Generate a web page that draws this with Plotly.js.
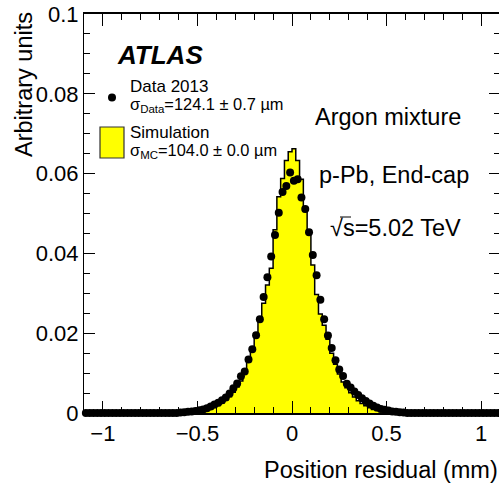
<!DOCTYPE html>
<html>
<head>
<meta charset="utf-8">
<script src="https://cdn.plot.ly/plotly-3.0.1.min.js"></script>
<style>
  html, body { margin: 0; padding: 0; background: #fff; overflow: hidden; }
</style>
</head>
<body>
<div id="plot"></div>
<script>
// bin centres, 0.02 mm wide
const binCenters = [
  -1.09, -1.07, -1.05, -1.03, -1.01, -0.99, -0.97, -0.95, -0.93, -0.91,
  -0.89, -0.87, -0.85, -0.83, -0.81, -0.79, -0.77, -0.75, -0.73, -0.71,
  -0.69, -0.67, -0.65, -0.63, -0.61, -0.59, -0.57, -0.55, -0.53, -0.51,
  -0.49, -0.47, -0.45, -0.43, -0.41, -0.39, -0.37, -0.35, -0.33, -0.31,
  -0.29, -0.27, -0.25, -0.23, -0.21, -0.19, -0.17, -0.15, -0.13, -0.11,
  -0.09, -0.07, -0.05, -0.03, -0.01, 0.01, 0.03, 0.05, 0.07, 0.09,
  0.11, 0.13, 0.15, 0.17, 0.19, 0.21, 0.23, 0.25, 0.27, 0.29,
  0.31, 0.33, 0.35, 0.37, 0.39, 0.41, 0.43, 0.45, 0.47, 0.49,
  0.51, 0.53, 0.55, 0.57, 0.59, 0.61, 0.63, 0.65, 0.67, 0.69,
  0.71, 0.73, 0.75, 0.77, 0.79, 0.81, 0.83, 0.85, 0.87, 0.89,
  0.91, 0.93, 0.95, 0.97, 0.99, 1.01, 1.03, 1.05, 1.07, 1.09
];

const dataValues = [
  0, 0, 0, 0, 0, 0, 0, 0, 0, 0,
  0, 0, 0, 0, 0, 0, 0, 0, 0, 0,
  0, 0, 0, 0, 0, 0.0001, 0.0002, 0.0003, 0.0004, 0.0005,
  0.0007, 0.0009, 0.0012, 0.0016, 0.0021, 0.0026, 0.0032, 0.0039, 0.0049, 0.0062,
  0.0074, 0.0092, 0.0104, 0.0134, 0.0160, 0.0195, 0.0235, 0.0291, 0.0340, 0.0392,
  0.0446, 0.0502, 0.0554, 0.0569, 0.0603, 0.0582, 0.0586, 0.0540, 0.0511, 0.0453,
  0.0396, 0.0345, 0.0284, 0.0235, 0.0194, 0.0163, 0.0132, 0.0109, 0.0093, 0.0073,
  0.0064, 0.0054, 0.0045, 0.0037, 0.0030, 0.0024, 0.0018, 0.0014, 0.0010, 0.0008,
  0.0006, 0.0004, 0.0003, 0.0002, 0.0001, 0, 0, 0, 0, 0,
  0, 0, 0, 0, 0, 0, 0, 0, 0, 0,
  0, 0, 0, 0, 0, 0, 0, 0, 0, 0
];

const simValues = [
  0, 0, 0, 0, 0, 0, 0, 0, 0, 0,
  0, 0, 0, 0, 0, 0, 0, 0, 0, 0,
  0, 0, 0, 0, 0, 0, 0, 0, 0.0001, 0.0002,
  0.0003, 0.0005, 0.0007, 0.0010, 0.0014, 0.0019, 0.0025, 0.0032, 0.0041, 0.0052,
  0.0065, 0.0080, 0.0100, 0.0127, 0.0160, 0.0200, 0.0238, 0.0275, 0.0321, 0.0363,
  0.0459, 0.0542, 0.0588, 0.0633, 0.0655, 0.0662, 0.0633, 0.0586, 0.0505, 0.0459,
  0.0371, 0.0297, 0.0248, 0.0220, 0.0185, 0.0150, 0.0122, 0.0098, 0.0078, 0.0063,
  0.0051, 0.0040, 0.0031, 0.0024, 0.0018, 0.0013, 0.0009, 0.0006, 0.0004, 0.0003,
  0.0002, 0.0001, 0, 0, 0, 0, 0, 0, 0, 0,
  0, 0, 0, 0, 0, 0, 0, 0, 0, 0,
  0, 0, 0, 0, 0, 0, 0, 0, 0, 0
];

const W = 500, H = 483;
const margin = { l: 84, r: 0, t: 14, b: 70 };
const FONT = 'Liberation Sans, Arial, sans-serif';

// pixel position to paper fraction, for the hand-placed legend and labels
const px = x => (x - margin.l) / (W - margin.l - margin.r);
const py = y => (H - margin.b - y) / (H - margin.t - margin.b);

function label(text, x, y, size, anchor, extra) {
  return Object.assign({
    text: text, xref: 'paper', yref: 'paper', x: px(x), y: py(y),
    xanchor: anchor, yanchor: 'middle', showarrow: false,
    font: { family: FONT, size: size, color: '#000' }
  }, extra || {});
}

const traces = [
  {
    x: binCenters, y: simValues, type: 'scatter', mode: 'lines', name: 'Simulation',
    line: { shape: 'hvh', color: '#000', width: 1.5 },
    fill: 'tozeroy', fillcolor: '#ffff00', hoverinfo: 'skip'
  },
  {
    x: binCenters, y: dataValues, type: 'scatter', mode: 'markers', name: 'Data 2013',
    marker: { color: '#000', size: 8 }, cliponaxis: false
  }
];

const layout = {
  width: W, height: H, margin: margin, autosize: false,
  paper_bgcolor: '#fff', plot_bgcolor: '#fff',
  font: { family: FONT, color: '#000' },
  showlegend: false,
  xaxis: {
    range: [-1.1, 1.1], tickvals: [-1, -0.5, 0, 0.5, 1], ticktext: ['\u22121', '\u22120.5', '0', '0.5', '1'],
    ticks: 'inside', ticklen: 12, tickwidth: 1, tickcolor: '#000',
    minor: { dtick: 0.1, ticks: 'inside', ticklen: 6, tickwidth: 1, tickcolor: '#000' },
    showline: true, linecolor: '#000', linewidth: 1.5, mirror: 'allticks',
    showgrid: false, zeroline: false,
    tickfont: { family: FONT, size: 22, color: '#000' }
  },
  yaxis: {
    range: [0, 0.1], dtick: 0.02,
    ticks: 'inside', ticklen: 11, tickwidth: 1, tickcolor: '#000',
    minor: { dtick: 0.005, ticks: 'inside', ticklen: 6, tickwidth: 1, tickcolor: '#000' },
    showline: true, linecolor: '#000', linewidth: 1, mirror: 'allticks',
    showgrid: false, zeroline: false,
    tickfont: { family: FONT, size: 22, color: '#000' }
  },
  shapes: [
    { type: 'rect', xref: 'paper', yref: 'paper', x0: px(100), x1: px(124), y0: py(158), y1: py(127),
      fillcolor: '#ffff00', line: { color: '#333', width: 1.2 } },
    { type: 'circle', xref: 'paper', yref: 'paper', x0: px(108), x1: px(116), y0: py(101.5), y1: py(93.5),
      fillcolor: '#000', line: { width: 0 } },
    // overline of the square root
    { type: 'line', xref: 'paper', yref: 'paper', x0: px(340), x1: px(351), y0: py(217), y1: py(217),
      line: { color: '#000', width: 1 } }
  ],
  annotations: [
    label('Arbitrary units', 24, 85, 23.5, 'center', { textangle: -90 }),
    label('Position residual (mm)', 500, 470, 23.5, 'right'),
    label('<b><i>ATLAS</i></b>', 115, 55, 26, 'left'),
    label('Data 2013', 128, 86, 17, 'left'),
    label('\u03c3<sub>Data</sub>=124.1 \u00b1 0.7 \u00b5m', 128, 105, 16.4, 'left'),
    label('Simulation', 128, 132, 17, 'left'),
    label('\u03c3<sub>MC</sub>=104.0 \u00b1 0.0 \u00b5m', 128, 151, 16.4, 'left'),
    label('Argon mixture', 313, 117, 23.5, 'left'),
    label('p-Pb, End-cap', 317, 175, 23.5, 'left'),
    label('\u221as=5.02 TeV', 328, 228, 23.5, 'left')
  ]
};

Plotly.newPlot('plot', traces, layout, { displayModeBar: false, responsive: false });
</script>
</body>
</html>
